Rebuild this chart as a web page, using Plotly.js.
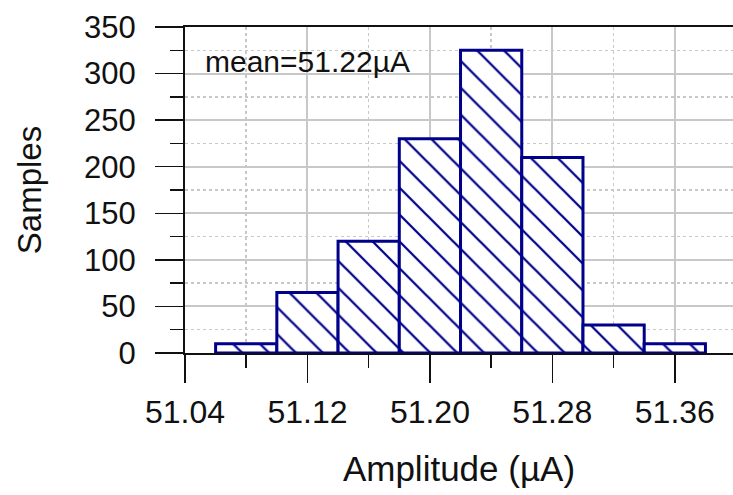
<!DOCTYPE html>
<html>
<head>
<meta charset="utf-8">
<script src="https://cdn.plot.ly/plotly-3.0.1.min.js"></script>
<style>html,body{margin:0;padding:0;background:#fff;}#chart{width:733px;height:495px;}</style>
</head>
<body>
<div id="chart"></div>
<script>
// Data
const binCenters = [51.08, 51.12, 51.16, 51.20, 51.24, 51.28, 51.32, 51.36];
const counts = [10, 65, 120, 230, 325, 210, 30, 10];
const binWidth = 0.04;
const xTickVals = [51.04, 51.12, 51.20, 51.28, 51.36];
const xTickText = ['51.04', '51.12', '51.20', '51.28', '51.36'];
const meanLabel = 'mean=51.22\u00B5A';

const navy = '#00008B';
const font = 'Liberation Sans, Arial, Helvetica, sans-serif';

const trace = {
  type: 'bar',
  x: binCenters,
  y: counts,
  width: binCenters.map(() => binWidth),
  marker: {
    color: '#ffffff',
    line: {color: navy, width: 3},
    pattern: {shape: '\\', size: 19, solidity: 0.12, fgcolor: navy, bgcolor: '#ffffff', fillmode: 'replace'}
  },
  hoverinfo: 'x+y'
};

const layout = {
  width: 733, height: 495,
  margin: {l: 185, r: 0, t: 27, b: 142, pad: 0},
  paper_bgcolor: '#ffffff', plot_bgcolor: '#ffffff',
  showlegend: false,
  bargap: 0,
  font: {family: font, color: '#111111', size: 30},
  xaxis: {
    range: [51.04, 51.398],
    tickvals: xTickVals, ticktext: xTickText,
    ticks: 'outside', ticklen: 28, tickwidth: 1.5, tickcolor: '#111111',
    ticklabelstandoff: 2,
    tickfont: {family: font, size: 32, color: '#111111'},
    showline: true, linecolor: '#111111', linewidth: 2, mirror: true,
    showgrid: true, gridcolor: '#c8c8c8', gridwidth: 2,
    zeroline: false,
    minor: {dtick: 0.04, tick0: 51.04, ticks: 'outside', ticklen: 13, tickwidth: 1.5, tickcolor: '#111111',
            showgrid: true, gridcolor: '#c8c8c8', gridwidth: 1.5, griddash: 'dot'},
    title: {text: 'Amplitude (\u00B5A)', font: {family: font, size: 35, color: '#111111'}, standoff: 27}
  },
  yaxis: {
    range: [0, 350],
    tick0: 0, dtick: 50,
    ticks: 'outside', ticklen: 28, tickwidth: 1.5, tickcolor: '#111111',
    ticklabelstandoff: 13,
    tickfont: {family: font, size: 31, color: '#111111'},
    showline: true, linecolor: '#111111', linewidth: 2,
    showgrid: true, gridcolor: '#c8c8c8', gridwidth: 2,
    zeroline: false,
    minor: {dtick: 25, tick0: 0, ticks: 'outside', ticklen: 13, tickwidth: 1.5, tickcolor: '#111111',
            showgrid: true, gridcolor: '#c8c8c8', gridwidth: 1.5, griddash: 'dot'},
    title: {text: 'Samples', font: {family: font, size: 33, color: '#111111'}, standoff: 33}
  },
  annotations: [{
    text: meanLabel,
    xref: 'paper', yref: 'paper',
    x: 0.032, y: 0.894,
    xanchor: 'left', yanchor: 'middle',
    showarrow: false,
    font: {family: font, size: 30, color: '#111111'}
  }]
};

Plotly.newPlot('chart', [trace], layout, {staticPlot: true, displayModeBar: false});
</script>
</body>
</html>
